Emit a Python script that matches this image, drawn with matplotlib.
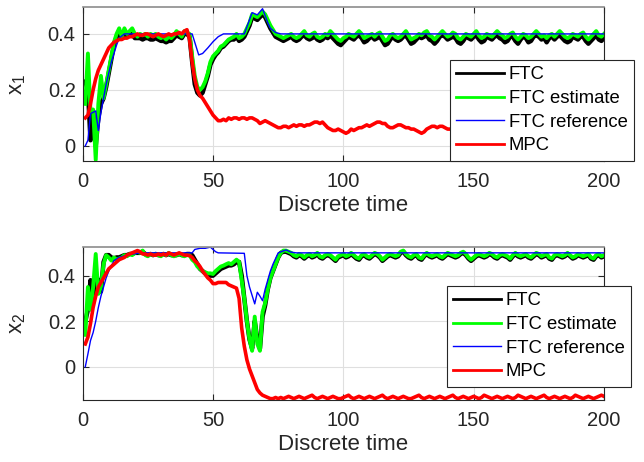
import matplotlib
matplotlib.use("Agg")
import matplotlib.pyplot as plt
import numpy as np

plt.rcParams['font.family'] = ['Liberation Sans', 'DejaVu Sans']
plt.rcParams['mathtext.fontset'] = 'custom'
plt.rcParams['mathtext.rm'] = 'Liberation Sans'
plt.rcParams['mathtext.it'] = 'Liberation Sans'

t = np.arange(1, 201)

# ---- state x1 ----
ftc1 = [0.23, 0.20, 0.02, 0.12, 0.00, 0.10, 0.15, 0.17, 0.21, 0.26,
        0.31, 0.36, 0.39, 0.40, 0.385, 0.40, 0.39, 0.395, 0.40, 0.385,
        0.385, 0.385, 0.38, 0.385, 0.385, 0.38, 0.38, 0.385, 0.38, 0.375,
        0.375, 0.37, 0.375, 0.375, 0.385, 0.395, 0.39, 0.385, 0.40, 0.40,
        0.39, 0.30, 0.22, 0.19, 0.18, 0.19, 0.22, 0.25, 0.29, 0.31,
        0.325, 0.335, 0.35, 0.355, 0.365, 0.375, 0.38, 0.38, 0.39, 0.375,
        0.38, 0.39, 0.41, 0.43, 0.46, 0.455, 0.45, 0.46, 0.47, 0.46,
        0.44, 0.42, 0.405, 0.39, 0.385, 0.38, 0.375,
        0.38, 0.385, 0.39, 0.38, 0.375, 0.38, 0.39, 0.395, 0.385, 0.38,
        0.385, 0.39, 0.38, 0.375, 0.38, 0.39, 0.385, 0.395, 0.385, 0.375,
        0.365, 0.36, 0.37, 0.38, 0.39, 0.385, 0.38, 0.39, 0.395, 0.385,
        0.37, 0.375, 0.385, 0.39, 0.38, 0.385, 0.39, 0.375, 0.36, 0.365,
        0.38, 0.39, 0.38, 0.375, 0.38, 0.39, 0.395, 0.38, 0.365, 0.37,
        0.38, 0.39, 0.385, 0.39, 0.395, 0.38, 0.375, 0.365, 0.375, 0.39,
        0.395, 0.39, 0.38, 0.385, 0.39, 0.385, 0.37, 0.365, 0.375, 0.39,
        0.385, 0.38, 0.39, 0.395, 0.38, 0.37, 0.375, 0.39, 0.385, 0.38,
        0.39, 0.395, 0.385, 0.38, 0.37, 0.375, 0.39, 0.39, 0.375, 0.365,
        0.38, 0.39, 0.385, 0.37, 0.375, 0.39, 0.395, 0.39, 0.38, 0.385,
        0.37, 0.385, 0.39, 0.38, 0.39, 0.395, 0.385, 0.375, 0.37, 0.375,
        0.39, 0.385, 0.38, 0.39, 0.39, 0.375, 0.365, 0.375, 0.385, 0.395,
        0.38, 0.375, 0.385]

est1 = [0.15, 0.33, 0.12, 0.13, -0.05, 0.15, 0.25, 0.17, 0.22, 0.27,
        0.32, 0.37, 0.40, 0.42, 0.39, 0.42, 0.40, 0.41, 0.42, 0.40,
        0.39, 0.40, 0.395, 0.40, 0.39, 0.40, 0.395, 0.40, 0.39, 0.385,
        0.39, 0.38, 0.39, 0.385, 0.395, 0.41, 0.40, 0.39, 0.41, 0.405,
        0.40, 0.32, 0.25, 0.21, 0.20, 0.21, 0.23, 0.26, 0.30, 0.32,
        0.33, 0.34, 0.355, 0.36, 0.37, 0.38, 0.385, 0.39, 0.40, 0.385,
        0.39, 0.40, 0.42, 0.44, 0.47, 0.465, 0.46, 0.47, 0.48, 0.47,
        0.45, 0.43, 0.415, 0.40, 0.395, 0.39, 0.385,
        0.39, 0.395, 0.40, 0.39, 0.385, 0.39, 0.40, 0.41, 0.395, 0.39,
        0.40, 0.405, 0.39, 0.385, 0.39, 0.40, 0.395, 0.41, 0.40, 0.39,
        0.38, 0.375, 0.385, 0.39, 0.40, 0.395, 0.39, 0.40, 0.41, 0.40,
        0.385, 0.39, 0.395, 0.40, 0.39, 0.40, 0.405, 0.39, 0.375, 0.38,
        0.395, 0.40, 0.39, 0.385, 0.39, 0.40, 0.41, 0.395, 0.38, 0.385,
        0.39, 0.40, 0.395, 0.405, 0.41, 0.395, 0.39, 0.38, 0.39, 0.40,
        0.41, 0.40, 0.39, 0.395, 0.405, 0.40, 0.385, 0.38, 0.39, 0.40,
        0.395, 0.39, 0.40, 0.41, 0.395, 0.385, 0.39, 0.40, 0.395, 0.39,
        0.40, 0.41, 0.40, 0.395, 0.385, 0.39, 0.40, 0.405, 0.39, 0.38,
        0.39, 0.40, 0.395, 0.385, 0.39, 0.40, 0.41, 0.40, 0.39, 0.395,
        0.385, 0.395, 0.40, 0.39, 0.40, 0.41, 0.40, 0.39, 0.385, 0.39,
        0.40, 0.395, 0.39, 0.40, 0.405, 0.39, 0.38, 0.39, 0.40, 0.41,
        0.395, 0.39, 0.40]

t_ref1 = [1, 2, 3, 5, 6, 7, 8, 9, 10, 11, 12, 13, 14, 16, 42, 43, 44.5, 46,
          48, 50, 52, 54, 62, 65, 67, 69, 71, 72, 74, 76, 200]
ref1 = [0.0, 0.02, 0.115, 0.125, 0.055, 0.12, 0.17, 0.22, 0.26, 0.30, 0.33,
        0.36, 0.385, 0.40, 0.40, 0.37, 0.325, 0.33, 0.35, 0.372, 0.39, 0.40,
        0.40, 0.476, 0.468, 0.49, 0.44, 0.42, 0.405, 0.40, 0.40]

mpc1 = [0.10, 0.11, 0.15, 0.20, 0.24, 0.27, 0.29, 0.31, 0.33, 0.35,
        0.36, 0.37, 0.375, 0.38, 0.38, 0.385, 0.385, 0.39, 0.39, 0.395,
        0.40, 0.395, 0.395, 0.40, 0.40, 0.395, 0.39, 0.395, 0.40, 0.395,
        0.39, 0.395, 0.40, 0.395, 0.40, 0.40, 0.405, 0.40, 0.41, 0.415,
        0.38, 0.30, 0.24, 0.20, 0.18, 0.17, 0.155, 0.14, 0.125, 0.11,
        0.10, 0.09, 0.09, 0.095, 0.09, 0.10, 0.095, 0.10, 0.10, 0.095,
        0.10, 0.10, 0.095, 0.10, 0.10, 0.095, 0.09, 0.08, 0.085, 0.09,
        0.085, 0.08, 0.075, 0.07, 0.065, 0.065, 0.07, 0.07, 0.065, 0.07,
        0.075, 0.07, 0.075, 0.075, 0.07, 0.075, 0.075, 0.08, 0.085, 0.085,
        0.08, 0.085, 0.075, 0.065, 0.06, 0.055, 0.055, 0.06, 0.055, 0.05,
        0.045, 0.05, 0.06, 0.055, 0.06, 0.065, 0.065, 0.07, 0.075, 0.07,
        0.075, 0.08, 0.085, 0.085, 0.08, 0.08, 0.07, 0.065, 0.065, 0.07,
        0.075, 0.075, 0.07, 0.065, 0.065, 0.06, 0.06, 0.055, 0.05, 0.045,
        0.05, 0.06, 0.065, 0.07, 0.07, 0.065, 0.07, 0.07, 0.065, 0.06,
        0.06, 0.055, 0.05, 0.055, 0.06, 0.06, 0.055, 0.05, 0.05, 0.055,
        0.06, 0.055, 0.05, 0.055, 0.06, 0.065, 0.06, 0.055, 0.05, 0.055,
        0.06, 0.055, 0.055, 0.06, 0.065, 0.06, 0.055, 0.05, 0.055, 0.06,
        0.06, 0.055, 0.05, 0.055, 0.06, 0.055, 0.05, 0.05, 0.055, 0.06,
        0.06, 0.055, 0.05, 0.055, 0.06, 0.065, 0.06, 0.055, 0.05, 0.055,
        0.06, 0.055, 0.05, 0.05, 0.055, 0.06, 0.06, 0.055, 0.05, 0.055]

# ---- state x2 ----
ftc2 = [0.20, 0.25, 0.38, 0.30, 0.40, 0.38, 0.33, 0.46, 0.49, 0.49,
        0.48, 0.475, 0.48, 0.48, 0.485, 0.49, 0.49, 0.495, 0.495, 0.50,
        0.50, 0.50, 0.505, 0.495, 0.49, 0.495, 0.49, 0.495, 0.49, 0.49,
        0.495, 0.49, 0.495, 0.49, 0.49, 0.49, 0.495, 0.49, 0.49, 0.495,
        0.495, 0.49, 0.47, 0.45, 0.43, 0.42, 0.41, 0.405, 0.40, 0.40,
        0.41, 0.42, 0.43, 0.435, 0.44, 0.445, 0.445, 0.45, 0.46, 0.46,
        0.40, 0.30, 0.20, 0.12, 0.08, 0.20, 0.12, 0.08, 0.22, 0.27,
        0.34, 0.39, 0.42, 0.45, 0.48, 0.50, 0.505, 0.505, 0.50, 0.495,
        0.485, 0.48, 0.49, 0.485, 0.475, 0.485, 0.49, 0.48, 0.485, 0.495,
        0.48, 0.475, 0.485, 0.49, 0.485, 0.475, 0.465, 0.48, 0.485, 0.49,
        0.48, 0.485, 0.495, 0.485, 0.475, 0.47, 0.485, 0.49, 0.48, 0.475,
        0.485, 0.495, 0.49, 0.48, 0.465, 0.475, 0.485, 0.49, 0.485, 0.48,
        0.485, 0.50, 0.505, 0.49, 0.48, 0.475, 0.485, 0.49, 0.475, 0.47,
        0.485, 0.495, 0.485, 0.48, 0.485, 0.49, 0.48, 0.475, 0.485, 0.495,
        0.49, 0.485, 0.48, 0.485, 0.495, 0.50, 0.49, 0.475, 0.465, 0.475,
        0.485, 0.49, 0.485, 0.48, 0.485, 0.495, 0.49, 0.48, 0.475, 0.485,
        0.49, 0.485, 0.48, 0.47, 0.485, 0.495, 0.485, 0.48, 0.485, 0.49,
        0.48, 0.475, 0.485, 0.495, 0.49, 0.48, 0.485, 0.49, 0.475, 0.47,
        0.485, 0.49, 0.485, 0.48, 0.485, 0.495, 0.485, 0.475, 0.48, 0.49,
        0.485, 0.48, 0.485, 0.49, 0.475, 0.47, 0.485, 0.49, 0.48, 0.485]

est2 = [0.14, 0.35, 0.25, 0.35, 0.495, 0.32, 0.35, 0.45, 0.49, 0.48,
        0.466, 0.48, 0.47, 0.475, 0.48, 0.49, 0.485, 0.495, 0.49, 0.50,
        0.505, 0.50, 0.51, 0.49, 0.485, 0.495, 0.49, 0.495, 0.49, 0.485,
        0.495, 0.49, 0.50, 0.49, 0.485, 0.49, 0.495, 0.49, 0.485, 0.49,
        0.49, 0.47, 0.46, 0.44, 0.43, 0.42, 0.415, 0.41, 0.41, 0.407,
        0.42, 0.43, 0.44, 0.444, 0.45, 0.455, 0.45, 0.46, 0.47, 0.46,
        0.38, 0.30, 0.20, 0.12, 0.07, 0.22, 0.10, 0.07, 0.24, 0.28,
        0.34, 0.39, 0.42, 0.45, 0.48, 0.50, 0.51, 0.51, 0.505, 0.50,
        0.49, 0.485, 0.495, 0.49, 0.48, 0.49, 0.495, 0.485, 0.49, 0.50,
        0.485, 0.48, 0.49, 0.495, 0.49, 0.48, 0.47, 0.485, 0.49, 0.495,
        0.485, 0.49, 0.50, 0.49, 0.48, 0.475, 0.49, 0.495, 0.485, 0.48,
        0.49, 0.50, 0.495, 0.485, 0.47, 0.48, 0.49, 0.495, 0.49, 0.485,
        0.49, 0.505, 0.51, 0.495, 0.485, 0.48, 0.49, 0.495, 0.48, 0.475,
        0.49, 0.50, 0.49, 0.485, 0.49, 0.495, 0.485, 0.48, 0.49, 0.50,
        0.495, 0.49, 0.485, 0.49, 0.50, 0.505, 0.495, 0.48, 0.47, 0.48,
        0.49, 0.495, 0.49, 0.485, 0.49, 0.50, 0.495, 0.485, 0.48, 0.49,
        0.495, 0.49, 0.485, 0.475, 0.49, 0.50, 0.49, 0.485, 0.49, 0.495,
        0.485, 0.48, 0.49, 0.50, 0.495, 0.485, 0.49, 0.495, 0.48, 0.475,
        0.49, 0.495, 0.49, 0.485, 0.49, 0.50, 0.49, 0.48, 0.485, 0.495,
        0.49, 0.485, 0.49, 0.495, 0.48, 0.475, 0.49, 0.495, 0.485, 0.49]

t_ref2 = [1, 2, 3, 4, 5, 6, 7, 8, 9, 10, 12, 14, 17, 22, 42, 43, 45, 47, 49,
          51, 52, 62, 63, 64, 66, 67, 68, 69, 70, 71, 72, 73, 75, 78, 80, 82, 200]
ref2 = [0.0, 0.056, 0.115, 0.15, 0.20, 0.26, 0.31, 0.35, 0.39, 0.42, 0.466,
        0.48, 0.49, 0.50, 0.50, 0.515, 0.52, 0.52, 0.525, 0.505, 0.50, 0.498,
        0.40, 0.35, 0.276, 0.327, 0.31, 0.29, 0.34, 0.38, 0.42, 0.45, 0.50,
        0.513, 0.503, 0.50, 0.50]

mpc2 = [0.10, 0.13, 0.19, 0.26, 0.31, 0.35, 0.37, 0.39, 0.41, 0.43,
        0.44, 0.45, 0.46, 0.47, 0.475, 0.48, 0.49, 0.495, 0.50, 0.505,
        0.51, 0.505, 0.495, 0.495, 0.49, 0.495, 0.49, 0.49, 0.495, 0.49,
        0.495, 0.49, 0.50, 0.495, 0.49, 0.495, 0.50, 0.495, 0.49, 0.49,
        0.488, 0.48, 0.465, 0.455, 0.44, 0.42, 0.405, 0.39, 0.38, 0.365,
        0.365, 0.37, 0.37, 0.37, 0.37, 0.36, 0.355, 0.35, 0.345, 0.30,
        0.17, 0.09, 0.03, -0.01, -0.04, -0.07, -0.10, -0.115, -0.125, -0.13,
        -0.135, -0.14, -0.14, -0.135, -0.14, -0.135, -0.14, -0.135, -0.13, -0.135,
        -0.14, -0.135, -0.13, -0.135, -0.14, -0.135, -0.13, -0.125, -0.135, -0.14,
        -0.135, -0.13, -0.135, -0.14, -0.135, -0.13, -0.135, -0.14, -0.14, -0.135,
        -0.13, -0.125, -0.135, -0.14, -0.135, -0.13, -0.135, -0.14, -0.135, -0.13,
        -0.135, -0.14, -0.135, -0.13, -0.125, -0.135, -0.14, -0.135, -0.13, -0.135,
        -0.14, -0.135, -0.13, -0.135, -0.14, -0.14, -0.135, -0.13, -0.125, -0.135,
        -0.14, -0.135, -0.13, -0.135, -0.14, -0.135, -0.13, -0.135, -0.14, -0.135,
        -0.13, -0.125, -0.135, -0.14, -0.135, -0.13, -0.135, -0.14, -0.135, -0.13,
        -0.135, -0.14, -0.135, -0.125, -0.13, -0.135, -0.14, -0.135, -0.13, -0.135,
        -0.14, -0.135, -0.13, -0.135, -0.14, -0.135, -0.125, -0.13, -0.135, -0.14,
        -0.135, -0.13, -0.135, -0.14, -0.135, -0.13, -0.125, -0.135, -0.14, -0.135,
        -0.13, -0.135, -0.14, -0.135, -0.13, -0.135, -0.14, -0.135, -0.125, -0.13,
        -0.135, -0.14, -0.135, -0.13, -0.135, -0.14, -0.135, -0.13, -0.125, -0.13]

xticks = [0, 50, 100, 150, 200]
yticks = [0, 0.2, 0.4]
ytick_labels = ["0", "0.2", "0.4"]
legend_labels = ["FTC", "FTC estimate", "FTC reference", "MPC"]

dark = "#262626"
fig = plt.figure(figsize=(6.44, 4.62), dpi=100)
ax1 = fig.add_axes([0.1284, 0.6515, 0.8095, 0.3333])
ax2 = fig.add_axes([0.1284, 0.1342, 0.8095, 0.3318])


def draw(ax, ftc, est, t_ref, ref, mpc, ylim, ylabel, leg_anchor):
    ax.plot(t, ftc, color="k", lw=3.2, label=legend_labels[0])
    ax.plot(t, est, color="#00ff00", lw=2.8, label=legend_labels[1])
    ax.plot(t_ref, ref, color="#0000ff", lw=1.0, label=legend_labels[2])
    ax.plot(t, mpc, color="#ff0000", lw=2.6, label=legend_labels[3])
    ax.set_xlim(0, 200)
    ax.set_ylim(*ylim)
    ax.set_xticks(xticks)
    ax.set_yticks(yticks)
    ax.set_yticklabels(ytick_labels)
    ax.grid(True, color="#dfdfdf", lw=0.8)
    ax.set_axisbelow(True)
    ax.tick_params(direction="in", top=True, right=True, length=4,
                   width=0.8, colors=dark, labelsize=14.5)
    ax.tick_params(axis="x", pad=8)
    ax.tick_params(axis="y", pad=5)
    for side in ["left", "bottom", "right"]:
        ax.spines[side].set_color(dark)
        ax.spines[side].set_linewidth(0.8)
    ax.spines["top"].set_color("#8c8c8c")
    ax.spines["top"].set_linewidth(1.2)
    ax.set_xlabel("Discrete time", fontsize=16, color=dark, labelpad=3)
    ax.set_ylabel(ylabel, fontsize=16, color=dark)
    ax.yaxis.set_label_coords(-0.105, 0.5)
    leg = ax.legend(loc="lower right", bbox_to_anchor=leg_anchor,
                    borderaxespad=0, fontsize=13.3, fancybox=False,
                    framealpha=1, edgecolor=dark, handlelength=2.55,
                    handletextpad=0.27, labelspacing=0.36, borderpad=0.36)
    leg.get_frame().set_linewidth(0.8)
    for line, w in zip(leg.get_lines(), [2.0, 2.0, 1.0, 2.0]):
        line.set_linewidth(w)
    for txt in leg.get_texts():
        txt.set_color("k")


draw(ax1, ftc1, est1, t_ref1, ref1, mpc1, (-0.054, 0.496),
     r"$\mathregular{x_1}$", (1.0576, 0.0))
draw(ax2, ftc2, est2, t_ref2, ref2, mpc2, (-0.146, 0.527),
     r"$\mathregular{x_2}$", (1.052, 0.085))

fig.savefig("out.png", dpi=100)
